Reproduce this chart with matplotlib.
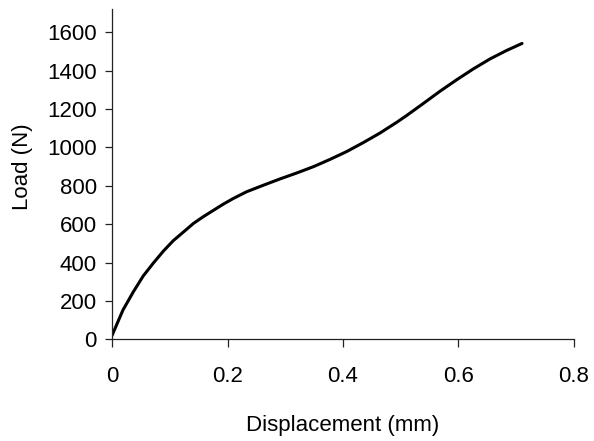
import matplotlib
matplotlib.use("Agg")
import matplotlib.pyplot as plt

# load-displacement curve
displacement = [0.0, 0.019, 0.037, 0.054, 0.072, 0.089, 0.106, 0.124, 0.141, 0.158,
                0.176, 0.193, 0.210, 0.233, 0.262, 0.291, 0.320, 0.349, 0.377, 0.406,
                0.435, 0.464, 0.493, 0.510, 0.539, 0.568, 0.597, 0.626, 0.655, 0.683,
                0.710]
load = [20, 153, 248, 330, 399, 460, 514, 560, 604, 639,
        673, 705, 734, 769, 803, 836, 867, 900, 937, 978,
        1025, 1075, 1131, 1166, 1229, 1293, 1353, 1410, 1462, 1505,
        1542]

x_ticks = [0, 0.2, 0.4, 0.6, 0.8]
x_tick_labels = ["0", "0.2", "0.4", "0.6", "0.8"]
y_ticks = [0, 200, 400, 600, 800, 1000, 1200, 1400, 1600]

plt.rcParams["font.family"] = ["Liberation Sans", "DejaVu Sans"]

fig = plt.figure(figsize=(5.94, 4.41), dpi=100)
ax = fig.add_axes([0.1886, 0.2306, 0.7777, 0.7483])

ax.plot(displacement, load, color="black", linewidth=2.2,
        solid_capstyle="round", solid_joinstyle="round")

ax.set_xlim(0, 0.8)
ax.set_ylim(0, 1720)
ax.set_xticks(x_ticks)
ax.set_xticklabels(x_tick_labels)
ax.set_yticks(y_ticks)

for side in ["top", "right"]:
    ax.spines[side].set_visible(False)
for side in ["left", "bottom"]:
    ax.spines[side].set_color("#222222")
    ax.spines[side].set_linewidth(0.9)

ax.tick_params(axis="x", direction="out", length=6, width=0.9, color="#222222",
               labelsize=16, pad=13)
ax.tick_params(axis="y", direction="out", length=5, width=0.9, color="#222222",
               labelsize=16, pad=6)

ax.set_xlabel("Displacement (mm)", fontsize=16)
ax.set_ylabel("Load (N)", fontsize=16)
ax.xaxis.set_label_coords(0.5, -0.23)
ax.yaxis.set_label_coords(-0.171, 0.522)

fig.savefig("out.png", dpi=100)
